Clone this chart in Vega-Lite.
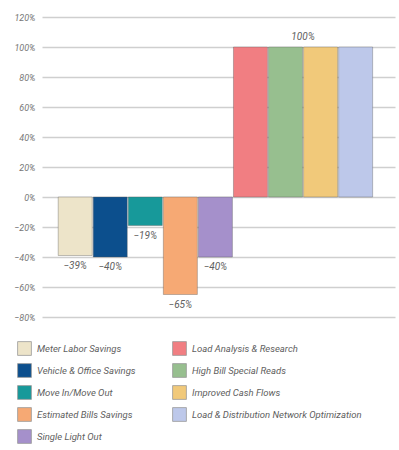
{
  "$schema": "https://vega.github.io/schema/vega-lite/v6.json",
  "width": 353,
  "height": 300,
  "autosize": {"type": "none"},
  "padding": {"left": 42, "top": 17, "right": 4, "bottom": 133},
  "background": "white",
  "config": {
    "view": {"stroke": null},
    "font": "Roboto",
    "text": {"font": "Roboto"}
  },
  "data": {
    "values": [
      {"category": "Meter Labor Savings", "value": -39, "label": "−39%"},
      {"category": "Vehicle & Office Savings", "value": -40, "label": "−40%"},
      {"category": "Move In/Move Out", "value": -19, "label": "−19%"},
      {"category": "Estimated Bills Savings", "value": -65, "label": "−65%"},
      {"category": "Single Light Out", "value": -40, "label": "−40%"},
      {"category": "Load Analysis & Research", "value": 100, "label": ""},
      {"category": "High Bill Special Reads", "value": 100, "label": "100%"},
      {"category": "Improved Cash Flows", "value": 100, "label": ""},
      {"category": "Load & Distribution Network Optimization", "value": 100, "label": ""}
    ]
  },
  "encoding": {
    "x": {
      "field": "category",
      "type": "nominal",
      "sort": null,
      "axis": null,
      "scale": {"paddingInner": 0.03, "paddingOuter": 0.55, "align": 0.42}
    },
    "y": {
      "field": "value",
      "type": "quantitative",
      "scale": {"domain": [-80, 120], "nice": false},
      "axis": {
        "values": [-80, -60, -40, -20, 0, 20, 40, 60, 80, 100, 120],
        "labelExpr": "format(datum.value, 'd') + '%'",
        "title": null,
        "domain": false,
        "ticks": false,
        "labelPadding": 7,
        "labelFont": "Roboto",
        "labelFontStyle": "italic",
        "labelFontSize": 9,
        "labelColor": "#777777",
        "gridColor": "#cfcfcf",
        "gridWidth": 1.4
      }
    }
  },
  "layer": [
    {
      "mark": {"type": "bar", "stroke": "#555", "strokeWidth": 0.8, "strokeOpacity": 0.45},
      "encoding": {
        "color": {
          "field": "category",
          "type": "nominal",
          "scale": {
            "domain": ["Meter Labor Savings", "Vehicle & Office Savings", "Move In/Move Out", "Estimated Bills Savings", "Single Light Out", "Load Analysis & Research", "High Bill Special Reads", "Improved Cash Flows", "Load & Distribution Network Optimization"],
            "range": ["#ede4c9", "#0c4f8d", "#17999a", "#f6a974", "#a590cb", "#f17e82", "#97bf8f", "#f1c97a", "#bdc8ea"]
          },
          "legend": {
            "orient": "none",
            "legendX": -25,
            "legendY": 324,
            "columns": 2,
            "title": null,
            "symbolType": "square",
            "symbolSize": 190,
            "symbolStrokeWidth": 0.8,
            "symbolStrokeColor": "#999",
            "rowPadding": 5,
            "columnPadding": 35,
            "labelFont": "Roboto",
            "labelFontStyle": "italic",
            "labelFontSize": 9.5,
            "labelColor": "#606060",
            "labelOffset": 5,
            "labelLimit": 300
          }
        }
      }
    },
    {
      "transform": [{"filter": "datum.value < 0"}],
      "mark": {"type": "text", "baseline": "top", "dy": 5, "fontStyle": "italic", "fontSize": 10, "color": "#606060"},
      "encoding": {"text": {"field": "label"}}
    },
    {
      "transform": [{"filter": "datum.label == '100%'"}],
      "mark": {"type": "text", "baseline": "bottom", "dy": -5, "dx": 17.5, "fontStyle": "italic", "fontSize": 10, "color": "#606060"},
      "encoding": {"text": {"field": "label"}}
    }
  ]
}
